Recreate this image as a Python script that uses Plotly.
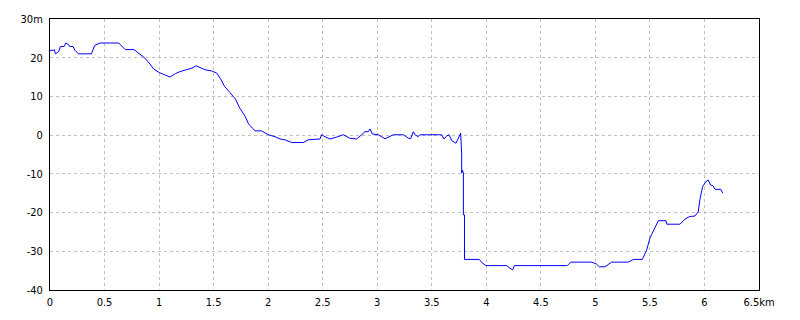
import plotly.graph_objects as go

dist_km = [0.0, 0.03, 0.04, 0.05, 0.08, 0.095, 0.13, 0.145, 0.17, 0.18, 0.21, 0.23, 0.26, 0.38, 0.41, 0.46,
           0.63, 0.69, 0.77, 0.825, 0.87, 0.91, 0.95, 1.0, 1.05, 1.10, 1.15, 1.19, 1.25, 1.30, 1.34, 1.375,
           1.42, 1.48, 1.53, 1.56, 1.60, 1.65, 1.70, 1.74, 1.79, 1.82, 1.85, 1.88, 1.94, 1.955, 2.001,
           2.063, 2.109, 2.154, 2.216, 2.322, 2.368, 2.475, 2.49, 2.521, 2.567, 2.628, 2.689, 2.75, 2.81,
           2.858, 2.888, 2.918, 2.934, 2.955, 3.01, 3.071, 3.147, 3.239, 3.285, 3.307, 3.331, 3.346, 3.376,
           3.392, 3.591, 3.612, 3.637, 3.658, 3.683, 3.722, 3.759, 3.765, 3.774, 3.774, 3.78, 3.79, 3.79,
           3.80, 3.80, 3.936, 3.958, 3.997, 4.187, 4.217, 4.242, 4.257, 4.742, 4.774, 4.966, 5.01, 5.036,
           5.088, 5.149, 5.30, 5.348, 5.43, 5.47, 5.50, 5.546, 5.577, 5.647, 5.654, 5.776, 5.82, 5.866,
           5.912, 5.943, 5.958, 5.983, 6.014, 6.035, 6.057, 6.08, 6.096, 6.151, 6.167]
elev_m = [21.9, 21.9, 22.1, 21.0, 21.6, 22.9, 22.9, 23.8, 23.4, 22.9, 22.9, 21.9, 21.0, 21.0, 23.2, 23.8,
          23.8, 22.1, 22.1, 20.8, 19.9, 18.6, 17.1, 16.2, 15.6, 15.0, 15.9, 16.4, 16.9, 17.3, 17.9, 17.5,
          16.9, 16.6, 16.0, 14.7, 12.6, 11.0, 9.3, 7.0, 4.8, 2.9, 2.1, 1.1, 1.1, 0.8, 0.1,
          -0.4, -1.0, -1.2, -1.9, -1.9, -1.2, -1.0, 0.1, -0.4, -1.0, -0.5, 0.1, -0.8, -1.0,
          0.1, 0.9, 0.9, 1.6, 0.3, 0.1, -0.95, 0.1, 0.1, -0.8, -0.9, 0.9, 0.1, -0.4,
          0.1, 0.1, -1.0, -0.2, 0.1, -1.4, -2.1, 0.5, 0.5, -4.7, -9.8, -9.0, -9.8, -20.6,
          -20.6, -32.1, -32.1, -32.9, -33.7, -33.7, -34.4, -34.8, -33.7, -33.7, -32.8, -32.8, -33.3, -34.0,
          -34.0, -32.8, -32.8, -32.1, -32.1, -29.7, -26.6, -24.0, -22.1, -22.1, -23.0, -23.0, -21.7, -21.0,
          -20.9, -19.8, -16.7, -13.3, -12.0, -11.6, -12.9, -13.1, -14.0, -14.0, -15.0]

x_ticks = [0, 0.5, 1, 1.5, 2, 2.5, 3, 3.5, 4, 4.5, 5, 5.5, 6, 6.5]
x_labels = ["0", "0.5", "1", "1.5", "2", "2.5", "3", "3.5", "4", "4.5", "5", "5.5", "6", "6.5km"]
y_ticks = [-40, -30, -20, -10, 0, 10, 20, 30]
y_labels = ["-40", "-30", "-20", "-10", "0", "10", "20", "30m"]

fig = go.Figure(go.Scatter(x=dist_km, y=elev_m, mode="lines",
                           line=dict(color="#0000ff", width=1), hoverinfo="skip"))

font = dict(family="Liberation Sans Narrow, DejaVu Sans Condensed, Arial Narrow, sans-serif", size=11, color="black")
fig.update_layout(
    width=800, height=320,
    margin=dict(l=50, r=41, t=19, b=30),
    paper_bgcolor="white", plot_bgcolor="white",
    showlegend=False, font=font,
)
fig.update_xaxes(range=[0, 6.5], tickvals=x_ticks, ticktext=x_labels,
                 showgrid=True, gridcolor="#c0c0c0", griddash="3px,3px", gridwidth=1,
                 showline=True, linecolor="black", linewidth=1, mirror=True,
                 zeroline=False, ticks="", ticklabelstandoff=2)
fig.update_yaxes(range=[-40, 30], tickvals=y_ticks, ticktext=y_labels,
                 showgrid=True, gridcolor="#c0c0c0", griddash="3px,3px", gridwidth=1,
                 showline=True, linecolor="black", linewidth=1, mirror=True,
                 zeroline=False, ticks="", ticklabelstandoff=4)

fig.write_html("out.html")
